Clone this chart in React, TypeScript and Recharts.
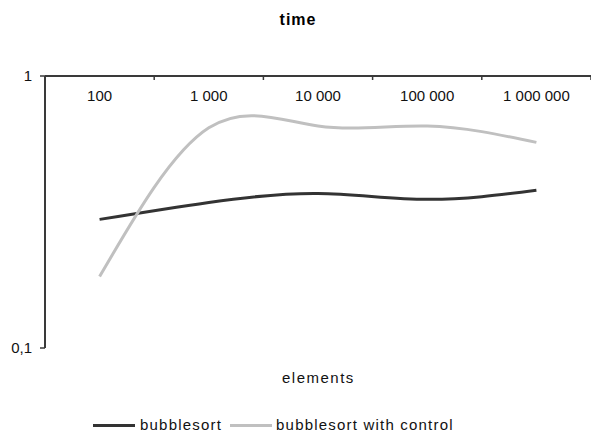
import { Legend, Line, LineChart, XAxis, YAxis } from 'recharts'

// number of elements sorted
const categories = ['100', '1 000', '10 000', '100 000', '1 000 000']
// time, log scale
const bubblesort = [0.297, 0.343, 0.37, 0.352, 0.38]
const bubblesortWithControl = [0.183, 0.645, 0.655, 0.655, 0.57]
const yTicks = [0.1, 1]

const data = categories.map((name, i) => ({
    name,
    bubblesort: bubblesort[i],
    control: bubblesortWithControl[i],
}))

const FONT = '"Liberation Sans", Arial, sans-serif'
const AXIS = '#3a3a3a'

const TopTick = (props: any) => {
    const { x, y, payload, index } = props
    const off = payload.offset || 0
    const axisY = y + 8
    return (
        <g>
            <line x1={x - off} x2={x - off} y1={axisY} y2={axisY + 4} stroke={AXIS} strokeWidth={1.5} />
            {index === categories.length - 1 && (
                <line x1={x + off} x2={x + off} y1={axisY} y2={axisY + 4} stroke={AXIS} strokeWidth={1.5} />
            )}
            <text x={x} y={axisY + 25} textAnchor="middle" fontSize={15} fill="#111" fontFamily={FONT}>
                {payload.value}
            </text>
        </g>
    )
}

const LegendContent = () => (
    <div
        style={{
            display: 'flex', alignItems: 'center', paddingLeft: 93, fontFamily: FONT,
            fontSize: 15, letterSpacing: 1.2, lineHeight: '18px', color: '#111',
        }}
    >
        <span style={{ display: 'inline-block', width: 42, height: 3, background: '#333', marginRight: 5 }} />
        <span style={{ marginRight: 8 }}>bubblesort</span>
        <span style={{ display: 'inline-block', width: 42, height: 3, background: '#c0c0c0', marginRight: 4 }} />
        <span>bubblesort with control</span>
    </div>
)

export default function App() {
    return (
        <div style={{ position: 'absolute', left: 0, top: 0, width: 591, height: 434, background: '#fff' }}>
            <div
                style={{
                    position: 'absolute', top: 11, left: 0, width: 596, textAlign: 'center',
                    fontFamily: FONT, fontWeight: 'bold', fontSize: 16, lineHeight: '18px', letterSpacing: 1,
                }}
            >
                time
            </div>
            <LineChart width={591} height={434} data={data} margin={{ top: 75, right: 0, bottom: 86, left: 0 }}>
                <XAxis
                    dataKey="name"
                    orientation="top"
                    scale="band"
                    height={1}
                    tickLine={false}
                    axisLine={{ stroke: AXIS, strokeWidth: 2 }}
                    tick={<TopTick />}
                    interval={0}
                />
                <YAxis
                    scale="log"
                    domain={[0.1, 1]}
                    ticks={yTicks}
                    allowDataOverflow
                    width={45}
                    axisLine={{ stroke: AXIS, strokeWidth: 2 }}
                    tickLine={{ stroke: AXIS, strokeWidth: 1.5 }}
                    tickSize={5}
                    tickMargin={8}
                    tick={{ fontSize: 15, fill: '#111', fontFamily: FONT }}
                    tickFormatter={(v: number) => String(v).replace('.', ',')}
                />
                <Line
                    type="natural"
                    dataKey="bubblesort"
                    stroke="#333"
                    strokeWidth={3}
                    dot={false}
                    isAnimationActive={false}
                />
                <Line
                    type="natural"
                    dataKey="control"
                    stroke="#c0c0c0"
                    strokeWidth={3}
                    dot={false}
                    isAnimationActive={false}
                />
                <Legend
                    verticalAlign="middle"
                    align="center"
                    layout="horizontal"
                    content={<LegendContent />}
                    wrapperStyle={{ top: 416, left: 0, width: 591 }}
                />
            </LineChart>
            <div
                style={{
                    position: 'absolute', top: 369, left: 282, fontFamily: FONT, fontSize: 15,
                    lineHeight: '18px', letterSpacing: 1.5, color: '#111',
                }}
            >
                elements
            </div>
        </div>
    )
}
